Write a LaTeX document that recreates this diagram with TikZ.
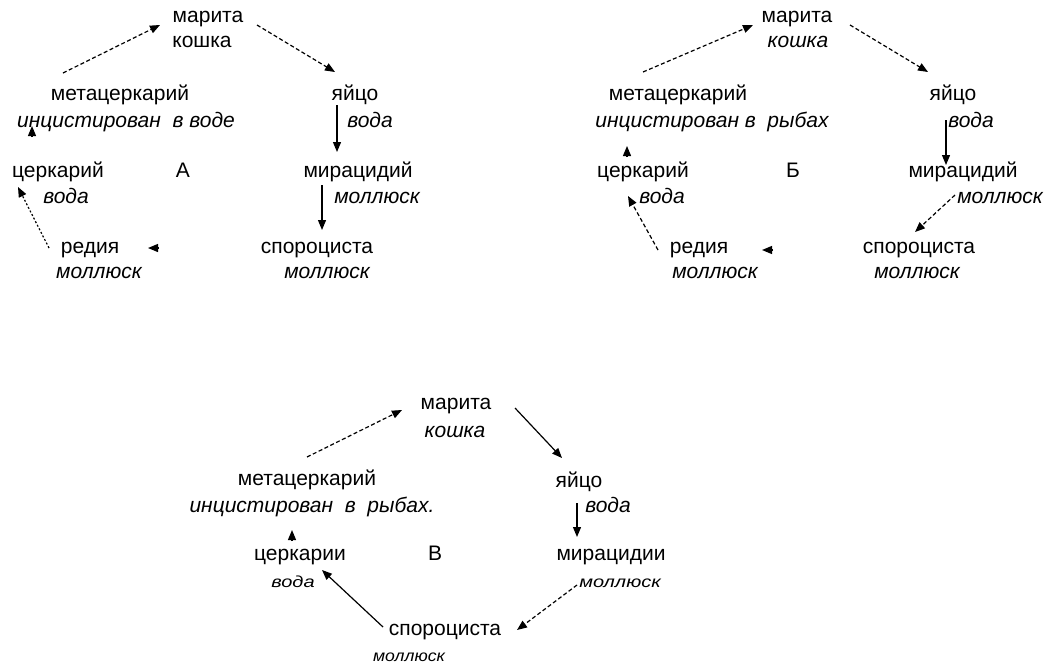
\documentclass[tikz,border=0pt]{standalone}
\usepackage{fontspec}
\setmainfont{Liberation Sans}
\usetikzlibrary{arrows.meta}
\begin{document}
\begin{tikzpicture}[x=1pt,y=-1pt,
  t/.style={inner sep=0pt, text height=11pt, text depth=0pt, font=\fontsize{21}{25}\selectfont},
  ti/.style={inner sep=0pt, text height=11pt, text depth=0pt, font=\fontsize{21}{25}\selectfont\itshape},
  ts/.style={inner sep=0pt, text height=8pt, text depth=0pt, font=\fontsize{16}{18}\selectfont\itshape},
  arr/.style={line width=1.2pt, -{Triangle[length=10pt,width=8pt]}},
  dsh/.style={arr, dash pattern=on 4pt off 2.5pt},
  dtt/.style={arr, dash pattern=on 2pt off 2pt}]
\useasboundingbox[fill=white] (0,0) rectangle (1048,664);

% ---------- A ----------
\node[t]  (Amar)  at (208,17)  {марита};
\node[t]  (Akosh) at (202,42)  {кошка};
\node[t]  (Amet)  at (120,95)  {метацеркарий};
\node[ti] (Ainc)  at (126,122) {инцистирован \ в воде};
\node[t]  (Acer)  at (58,172)  {церкарий};
\node[ti] (Avod1) at (66,198)  {вода};
\node[t]  (Alab)  at (183,172) {А};
\node[t]  (Ared)  at (90,248)  {редия};
\node[ti] (Amol1) at (99,273)  {моллюск};
\node[t]  (Ayai)  at (355,95)  {яйцо};
\node[ti] (Avod2) at (370,122) {вода};
\node[t]  (Amir)  at (358,172) {мирацидий};
\node[ti] (Amol2) at (377,198) {моллюск};
\node[t]  (Aspo)  at (317,248) {спороциста};
\node[ti] (Amol3) at (327,273) {моллюск};

\coordinate (a1) at (63,73);   \coordinate (a2) at (160,25);
\coordinate (a3) at (257,25);  \coordinate (a4) at (335,72);
\coordinate (a5) at (337,105); \coordinate (a6) at (337,152);
\coordinate (a7) at (322,185); \coordinate (a8) at (322,230);
\coordinate (a9) at (159,248); \coordinate (a10) at (148,248);
\coordinate (a11) at (49,248); \coordinate (a12) at (18,187);
\coordinate (a13) at (32,137); \coordinate (a14) at (32,126);
\draw[dsh] (a1) -- (a2);
\draw[dsh] (a3) -- (a4);
\draw[arr] (a5) -- (a6);
\draw[arr] (a7) -- (a8);
\draw[arr] (a9) -- (a10);
\draw[dtt] (a11) -- (a12);
\draw[arr] (a13) -- (a14);

% ---------- Б ----------
\node[t]  (Bmar)  at (797,17)  {марита};
\node[ti] (Bkosh) at (798,42)  {кошка};
\node[t]  (Bmet)  at (678,95)  {метацеркарий};
\node[ti] (Binc)  at (712,122) {инцистирован в \ рыбах};
\node[t]  (Bcer)  at (643,172) {церкарий};
\node[ti] (Bvod1) at (662,198) {вода};
\node[t]  (Blab)  at (793,172) {Б};
\node[t]  (Bred)  at (699,248) {редия};
\node[ti] (Bmol1) at (715,273) {моллюск};
\node[t]  (Byai)  at (953,95)  {яйцо};
\node[ti] (Bvod2) at (971,122) {вода};
\node[t]  (Bmir)  at (963,172) {мирацидий};
\node[ti] (Bmol2) at (1000,198) {моллюск};
\node[t]  (Bspo)  at (919,248) {спороциста};
\node[ti] (Bmol3) at (917,273) {моллюск};

\coordinate (b1) at (643,72);  \coordinate (b2) at (753,25);
\coordinate (b3) at (850,25);  \coordinate (b4) at (928,72);
\coordinate (b5) at (946,120); \coordinate (b6) at (946,165);
\coordinate (b7) at (955,195); \coordinate (b8) at (915,232);
\coordinate (b9) at (773,250); \coordinate (b10) at (762,250);
\coordinate (b11) at (658,250); \coordinate (b12) at (628,196);
\coordinate (b13) at (627,157); \coordinate (b14) at (627,146);
\draw[dsh] (b1) -- (b2);
\draw[dsh] (b3) -- (b4);
\draw[arr] (b5) -- (b6);
\draw[dsh] (b7) -- (b8);
\draw[arr] (b9) -- (b10);
\draw[dsh] (b11) -- (b12);
\draw[arr] (b13) -- (b14);

% ---------- В ----------
\node[t]  (Cmar)  at (456,404) {марита};
\node[ti] (Ckosh) at (455,432) {кошка};
\node[t]  (Cmet)  at (307,480) {метацеркарий};
\node[ti] (Cinc)  at (312,507) {инцистирован \ в \ рыбах.};
\node[t]  (Cyai)  at (579,482) {яйцо};
\node[ti] (Cvod)  at (608,507) {вода};
\node[t]  (Ccer)  at (300,555) {церкарии};
\node[ts] (Cvods) at (293,583) {\scalebox{1.25}[1]{вода}};
\node[t]  (Clab)  at (435,555) {В};
\node[t]  (Cmir)  at (611,555) {мирацидии};
\node[ts] (Cmols) at (620,583) {\scalebox{1.25}[1]{моллюск}};
\node[t]  (Cspo)  at (445,630) {спороциста};
\node[ts] (Cmol2) at (409,657) {\scalebox{1.1}[1]{моллюск}};

\coordinate (c1) at (307,457);  \coordinate (c2) at (402,410);
\coordinate (c3) at (515,408);  \coordinate (c4) at (562,458);
\coordinate (c5) at (577,503);  \coordinate (c6) at (577,537);
\coordinate (c7) at (292,541);  \coordinate (c8) at (292,530);
\coordinate (c9) at (383,627);  \coordinate (c10) at (322,570);
\coordinate (c11) at (577,585); \coordinate (c12) at (517,630);
\draw[dsh] (c1) -- (c2);
\draw[arr] (c3) -- (c4);
\draw[arr] (c5) -- (c6);
\draw[arr] (c7) -- (c8);
\draw[arr] (c9) -- (c10);
\draw[dsh] (c11) -- (c12);
\end{tikzpicture}
\end{document}
